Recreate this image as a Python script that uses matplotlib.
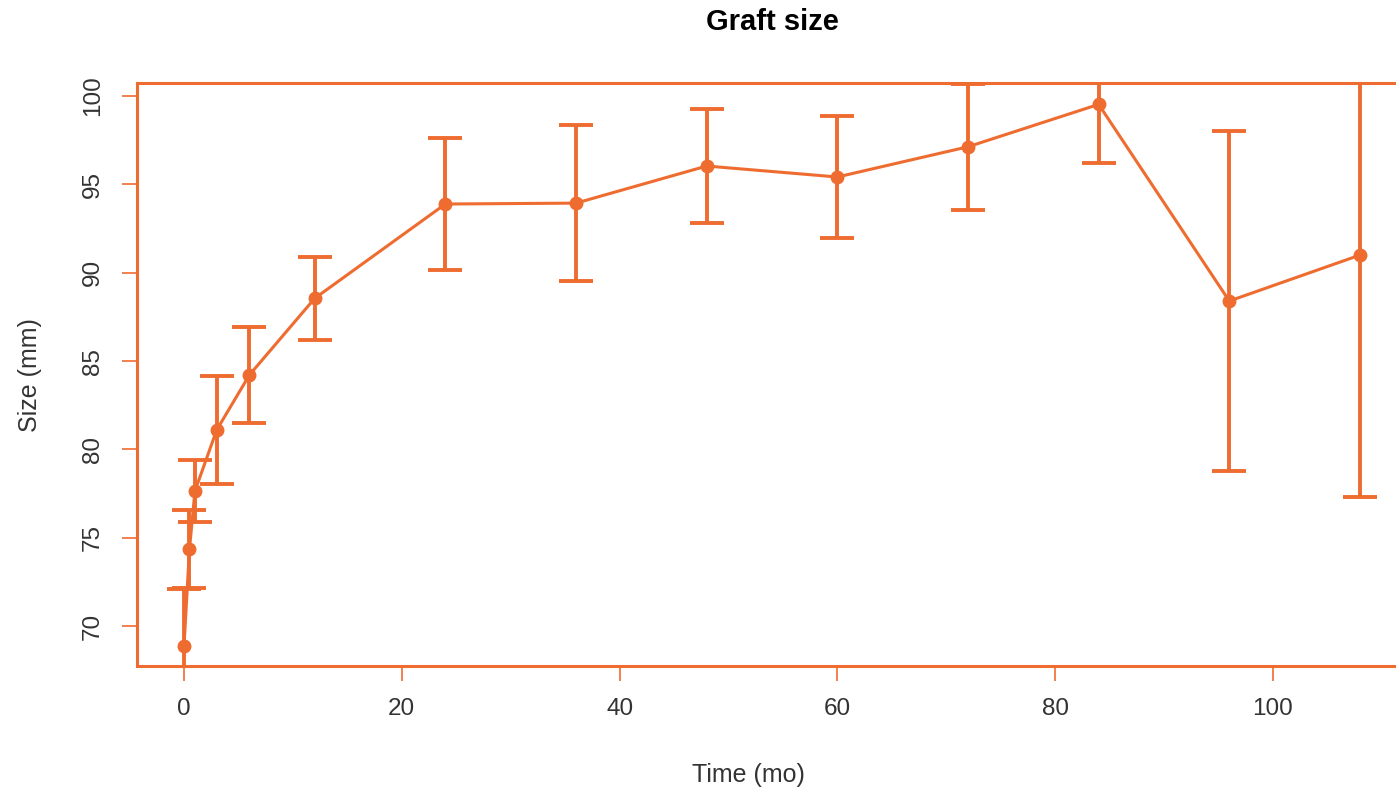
import matplotlib
matplotlib.use("Agg")
import matplotlib.pyplot as plt

# Data
time_mo = [0, 0.5, 1, 3, 6, 12, 24, 36, 48, 60, 72, 84, 96, 108]
size_mm = [68.9, 74.35, 77.64, 81.1, 84.21, 88.55, 93.89, 93.94, 96.04, 95.42, 97.13, 99.53, 88.4, 91.0]
err_mm = [3.2, 2.22, 1.74, 3.05, 2.7, 2.35, 3.73, 4.4, 3.2, 3.43, 3.58, 3.3, 9.6, 13.7]

x_ticks = [0, 20, 40, 60, 80, 100]
y_ticks = [70, 75, 80, 85, 90, 95, 100]

color = "#EF6C30"
txt = "#333333"
plt.rcParams['font.family'] = ['Liberation Sans', 'DejaVu Sans']

W, H = 1396, 793
fig = plt.figure(figsize=(W / 100, H / 100), dpi=100)
ax = fig.add_axes([137 / W, 1 - 666 / H, (1407 - 137) / W, (666 - 83) / H])

ax.errorbar(time_mo, size_mm, yerr=err_mm, color=color, lw=2.2, marker='o',
            markersize=9, elinewidth=2.8, capsize=12, capthick=2.8)

ax.set_xlim(-4.32, 112.32)
ax.set_ylim(67.74, 100.74)
ax.set_xticks(x_ticks)
ax.set_yticks(y_ticks)
ax.set_yticklabels([str(v) for v in y_ticks], rotation=90, va='center')

for s in ['left', 'top', 'bottom']:
    ax.spines[s].set_color(color)
    ax.spines[s].set_linewidth(2.2)
ax.spines['right'].set_visible(False)

ax.tick_params(axis='both', colors=color, labelcolor=txt, labelsize=17.5,
               length=11, width=1.2)
ax.tick_params(axis='x', pad=12)
ax.tick_params(axis='y', pad=13)

fig.text(772 / W, 1 - 22 / H, "Graft size", ha='center', va='center',
         fontsize=21, fontweight='bold', color='black')
fig.text(748 / W, 1 - 775 / H, "Time (mo)", ha='center', va='center',
         fontsize=18, color=txt)
fig.text(30 / W, 1 - 375 / H, "Size (mm)", ha='center', va='center',
         fontsize=18, color=txt, rotation=90)

fig.savefig("out.png", dpi=100, facecolor='white')
